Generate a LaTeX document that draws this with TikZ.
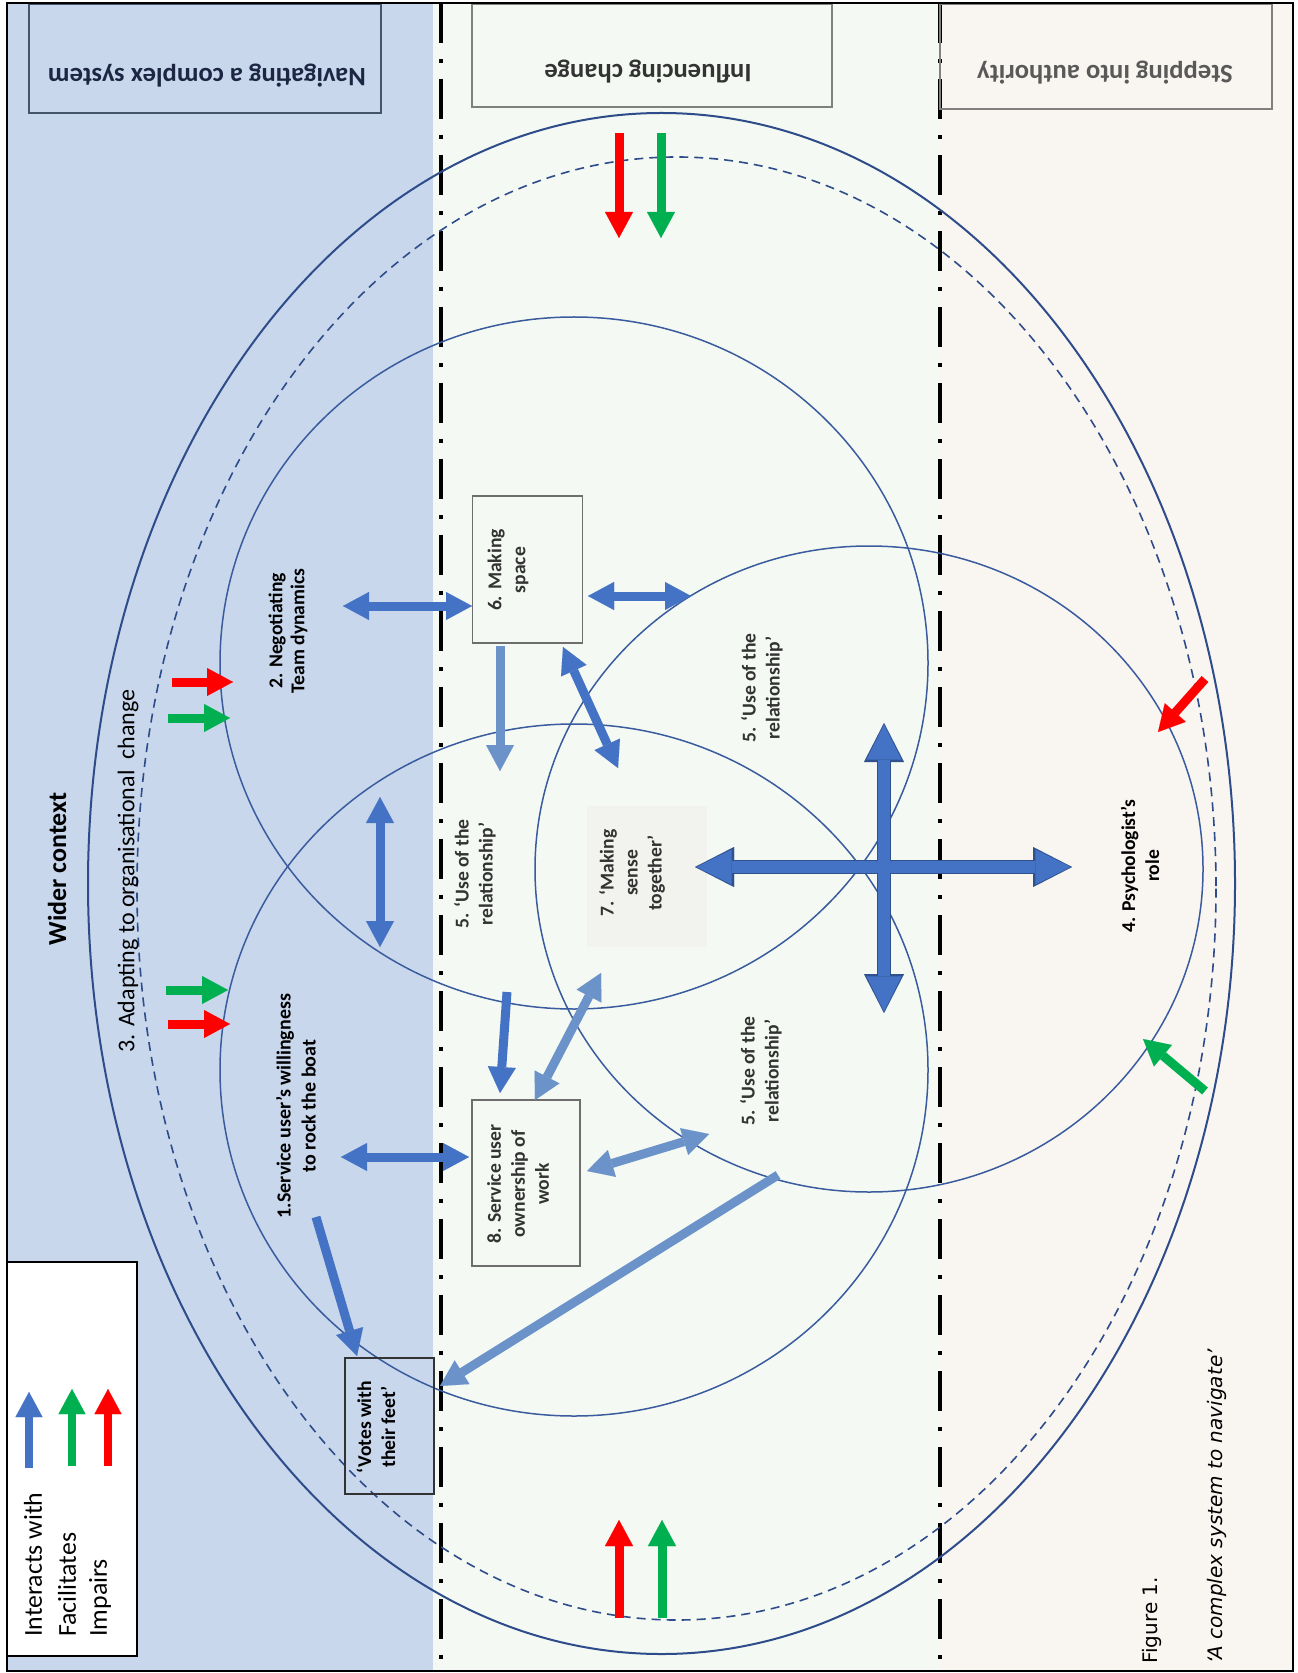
\documentclass[tikz,border=0pt]{standalone}
\usepackage{fontspec}
\setmainfont{Carlito}
\newfontfamily\dejavu{DejaVu Sans}
\usetikzlibrary{arrows.meta}
\definecolor{bgblue}{HTML}{C8D7EC}
\definecolor{bggreen}{HTML}{F4F9F3}
\definecolor{bgpink}{HTML}{F9F5F1}
\definecolor{navy}{HTML}{2E4C8A}
\definecolor{circline}{HTML}{3A5C9E}
\definecolor{arrblue}{HTML}{4472C4}
\definecolor{arrdark}{HTML}{2F528F}
\definecolor{arrlight}{HTML}{6B93C9}
\definecolor{impred}{HTML}{FF0000}
\definecolor{facgreen}{HTML}{00B050}
\definecolor{labgray}{HTML}{333333}
\definecolor{boxgray}{HTML}{6E6E6E}
\definecolor{shadebox}{HTML}{F2F2EE}
\definecolor{hdrnavy}{HTML}{1C2541}
\definecolor{hdrgray}{HTML}{333333}
\definecolor{stepgray}{HTML}{595959}
\definecolor{navline}{HTML}{44546A}
\tikzset{
  dashdotline/.style={line width=2pt, black, dash pattern=on 20pt off 8pt on 2pt off 8pt},
  hdrbox/.style={inner sep=0pt, line width=0.6pt},
  hdr/.style={rotate=180, inner sep=0pt, font=\fontsize{13.3pt}{16pt}\selectfont\bfseries},
  lbl/.style={rotate=90, align=center, inner sep=0pt, font=\fontsize{9.8pt}{12pt}\selectfont\bfseries},
  glbl/.style={lbl, text=labgray},
  legtxt/.style={rotate=90, anchor=west, inner sep=0pt, font=\fontsize{12.9pt}{15pt}\selectfont},
  cbox/.style={draw=boxgray, line width=0.6pt, inner sep=0pt},
  sarr/.style={line width=4.5pt, -{Triangle[width=14pt,length=13pt,line width=0.01pt]}},
  darr/.style={line width=4.5pt, {Triangle[width=14pt,length=13pt,line width=0.01pt]}-{Triangle[width=14pt,length=13pt,line width=0.01pt]}},
  bigarrout/.style={line width=7.4pt, draw=arrdark, {Triangle[width=20pt,length=19.5pt,line width=0.01pt]}-{Triangle[width=20pt,length=19.5pt,line width=0.01pt]}},
  bigarr/.style={line width=6.2pt, draw=arrblue, {Triangle[width=17.5pt,length=17.5pt,line width=0.01pt]}-{Triangle[width=17.5pt,length=17.5pt,line width=0.01pt]}, shorten <=0.8pt, shorten >=0.8pt},
  legarr/.style={line width=4pt, -{Triangle[width=13.5pt,length=12.5pt,line width=0.01pt]}}
}
\begin{document}
\begin{tikzpicture}[x=0.5pt,y=-0.5pt]
\useasboundingbox (0,0) rectangle (1297,1673);
\fill[white] (0,0) rectangle (1297,1673);
% background columns
\fill[bgblue] (7,3) rectangle (433,1671);
\fill[bggreen] (433,3) rectangle (940,1671);
\fill[bgpink] (940,3) rectangle (1293,1671);
% dash-dot dividers
\draw[dashdotline] (441,3) -- (441,1671);
\draw[dashdotline] (940,3) -- (940,1671);
% ellipses and circles
\draw[navy, line width=1pt] (661.5,883.5) ellipse [x radius=573.5, y radius=770.5];
\draw[navy, line width=0.8pt, dash pattern=on 4.5pt off 3pt] (676.5,888.5) ellipse [x radius=539.5, y radius=731.5];
\draw[circline, line width=0.75pt] (574,663) ellipse [x radius=354, y radius=346];
\draw[circline, line width=0.75pt] (574,1070) ellipse [x radius=354, y radius=346];
\draw[circline, line width=0.75pt] (869,869) ellipse [x radius=334, y radius=323];
% header boxes
\node[hdrbox, draw=navline, minimum width=176pt, minimum height=54.5pt] (navbox) at (205,58.5) {};
\node[hdr, text=hdrnavy] (navtxt) at (207,76) {Navigating a complex system};
\node[hdrbox, draw=gray, fill=bggreen, minimum width=180pt, minimum height=51.5pt] (inflbox) at (652,55.5) {};
\node[hdr, text=hdrgray] (infltxt) at (648,72) {Influencing change};
\node[hdrbox, draw=gray, minimum width=166pt, minimum height=52.5pt] (stepbox) at (1106,56.5) {};
\node[hdr, text=stepgray] (steptext) at (1105,73) {Stepping into authority};
% legend
\node[draw=black, fill=white, line width=0.75pt, inner sep=0pt, minimum width=65pt, minimum height=197pt] (legend) at (72,1459) {};
\coordinate (lb1) at (29,1468); \coordinate (lb2) at (29,1392);
\coordinate (lg1) at (72,1466); \coordinate (lg2) at (72,1389);
\coordinate (lr1) at (108,1466); \coordinate (lr2) at (108,1389);
\draw[legarr, arrblue] (lb1) -- (lb2);
\draw[legarr, facgreen] (lg1) -- (lg2);
\draw[legarr, impred] (lr1) -- (lr2);
\node[legtxt] (leg1) at (33,1637) {Interacts with};
\node[legtxt] (leg2) at (67,1637) {Facilitates};
\node[legtxt] (leg3) at (100,1637) {Impairs};
% boxes
\node[cbox, minimum width=73.5pt, minimum height=55pt, rotate=90] (box6) at (527.5,569.5) {};
\node[glbl] (t6) at (508,570) {6. Making\\space};
\node[fill=shadebox, inner sep=0pt, minimum width=60pt, minimum height=70.5pt] (box7) at (647,876.5) {};
\node[glbl] (t7) at (632,873) {7. ‘Making\\sense\\together’};
\node[cbox, minimum width=54pt, minimum height=83pt] (box8) at (526,1183) {};
\node[glbl] (t8) at (518,1184) {8. Service user\\ownership of\\work};
\node[cbox, draw=labgray, minimum width=44.5pt, minimum height=68pt] (votes) at (389.5,1426) {};
\node[lbl] (tvotes) at (376,1427) {‘Votes with\\their feet’};
% texts
\node[rotate=90, inner sep=0pt, font=\fontsize{13pt}{15pt}\selectfont\bfseries] (wider) at (57,869) {Wider context};
\node[rotate=90, inner sep=0pt, font=\fontsize{12pt}{14pt}\selectfont] (adapt) at (128,871) {3. Adapting to organisational\ \ change};
\node[lbl, font=\fontsize{9.8pt}{11pt}\selectfont\bfseries] (neg) at (288,631) {2. Negotiating\\Team dynamics};
\node[lbl, font=\fontsize{10pt}{12.5pt}\selectfont\bfseries] (svc) at (296,1106) {1.Service user’s willingness\\to rock the boat};
\node[glbl] (use1) at (475,874) {5. ‘Use of the\\relationship’};
\node[glbl] (use2) at (762,688) {5. ‘Use of the\\relationship’};
\node[glbl] (use3) at (761,1071) {5. ‘Use of the\\relationship’};
\node[lbl] (psych) at (1140,866) {4. Psychologist’s\\role};
\node[rotate=90, anchor=west, inner sep=0pt, font=\dejavu\fontsize{10pt}{12pt}\selectfont] (fig) at (1152,1664) {Figure 1.};
\node[rotate=90, anchor=west, inner sep=0pt, font=\dejavu\itshape\fontsize{10pt}{12pt}\selectfont] (cap) at (1217,1664) {‘A complex system to navigate’};
% red / green arrows
\coordinate (a1s) at (619,133); \coordinate (a1e) at (619,238);
\coordinate (a2s) at (661,133); \coordinate (a2e) at (661,238);
\coordinate (a3s) at (619,1618); \coordinate (a3e) at (619,1520);
\coordinate (a4s) at (662,1618); \coordinate (a4e) at (662,1520);
\coordinate (a5s) at (172,682); \coordinate (a5e) at (233,682);
\coordinate (a6s) at (168,718); \coordinate (a6e) at (230,718);
\coordinate (a7s) at (166,990); \coordinate (a7e) at (228,990);
\coordinate (a8s) at (168,1024); \coordinate (a8e) at (230,1024);
\coordinate (a9s) at (1205,679); \coordinate (a9e) at (1158,732);
\coordinate (a10s) at (1205,1091); \coordinate (a10e) at (1143,1039);
\draw[sarr, impred] (a1s) -- (a1e);
\draw[sarr, facgreen] (a2s) -- (a2e);
\draw[sarr, impred] (a3s) -- (a3e);
\draw[sarr, facgreen] (a4s) -- (a4e);
\draw[sarr, impred] (a5s) -- (a5e);
\draw[sarr, facgreen] (a6s) -- (a6e);
\draw[sarr, facgreen] (a7s) -- (a7e);
\draw[sarr, impred] (a8s) -- (a8e);
\draw[sarr, impred] (a9s) -- (a9e);
\draw[sarr, facgreen] (a10s) -- (a10e);
% blue arrows
\coordinate (b1s) at (343,606); \coordinate (b1e) at (472,606);
\coordinate (b2s) at (588,596); \coordinate (b2e) at (691,596);
\coordinate (b3s) at (500,646); \coordinate (b3e) at (500,771);
\coordinate (b4s) at (563,647); \coordinate (b4e) at (618,768);
\coordinate (b5s) at (380,797); \coordinate (b5e) at (380,947);
\coordinate (b6s) at (341,1157); \coordinate (b6e) at (469,1157);
\coordinate (b7s) at (316,1217); \coordinate (b7e) at (357,1356);
\coordinate (b8s) at (778,1175); \coordinate (b8e) at (440,1386);
\coordinate (b9s) at (507,992); \coordinate (b9e) at (500,1093);
\coordinate (b10s) at (535,1100); \coordinate (b10e) at (601,973);
\coordinate (b11s) at (587,1171); \coordinate (b11e) at (709,1134);
\draw[darr, arrblue] (b1s) -- (b1e);
\draw[darr, arrblue] (b2s) -- (b2e);
\draw[sarr, arrlight] (b3s) -- (b3e);
\draw[darr, arrblue] (b4s) -- (b4e);
\draw[darr, arrblue] (b5s) -- (b5e);
\draw[darr, arrblue] (b6s) -- (b6e);
\draw[sarr, arrblue] (b7s) -- (b7e);
\draw[sarr, arrlight] (b8s) -- (b8e);
\draw[sarr, arrblue] (b9s) -- (b9e);
\draw[darr, arrlight] (b10s) -- (b10e);
\draw[darr, arrlight] (b11s) -- (b11e);
% big cross
\coordinate (c1s) at (695,867); \coordinate (c1e) at (1072,867);
\coordinate (c2s) at (884,723); \coordinate (c2e) at (884,1013);
\draw[bigarrout] (c1s) -- (c1e);
\draw[bigarrout] (c2s) -- (c2e);
\draw[bigarr] (c1s) -- (c1e);
\draw[bigarr] (c2s) -- (c2e);
% frame
\draw[black, line width=1pt] (7,3) rectangle (1293,1671);
\end{tikzpicture}
\end{document}
